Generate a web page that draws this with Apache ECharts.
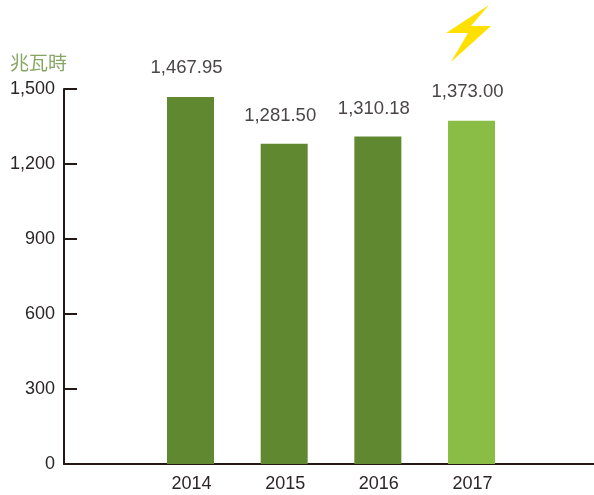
<!DOCTYPE html>
<html>
<head>
<meta charset="utf-8">
<style>html,body{margin:0;padding:0;background:#fff}#chart{width:594px;height:495px}</style>
<script src="https://cdn.jsdelivr.net/npm/echarts@6/dist/echarts.min.js"></script>
</head>
<body>
<div id="chart"></div>
<script>
var years = [2014, 2015, 2016, 2017];
var values = [1467.95, 1281.50, 1310.18, 1373.00];
var barColors = ['#5f8830', '#5f8830', '#5f8830', '#8abd45'];
var yTicks = [0, 300, 600, 900, 1200, 1500];
var unit = '兆瓦時';
var font = '"Liberation Sans", "Noto Sans CJK TC", sans-serif';
// the value labels don't sit at one height above the bars in the original
var labelDrop = [0, 2, 2, 0];

var chart = echarts.init(document.getElementById('chart'));
chart.setOption({
  animation: false,
  textStyle: {fontFamily: font},
  grid: {left: 64, right: 0, top: 89, bottom: 31},
  // lightning bolt above the 2017 bar
  graphic: [{
    type: 'polygon',
    shape: {points: [[489, 5], [446, 33], [468, 33], [451, 62], [491, 26], [471, 26]]},
    style: {fill: '#ffe000'}
  }],
  xAxis: {
    type: 'value',
    min: 2012.6495,
    max: 2018.3075,
    axisLine: {lineStyle: {color: '#231815', width: 2}},
    axisTick: {show: false},
    splitLine: {show: false},
    axisLabel: {
      color: '#2b2526', fontSize: 18, margin: 11, padding: [0, 0, 0, 2],
      customValues: years,
      formatter: function (v) { return String(v); }
    }
  },
  yAxis: {
    type: 'value',
    name: unit,
    nameLocation: 'end',
    nameGap: 15,
    nameTextStyle: {color: '#86a763', fontSize: 19, align: 'right', padding: [0, -3, 0, 0]},
    min: yTicks[0],
    max: yTicks[yTicks.length - 1],
    interval: 300,
    axisLine: {show: true, lineStyle: {color: '#231815', width: 2}},
    axisTick: {show: true, length: 13, inside: true, lineStyle: {color: '#231815', width: 2}},
    axisLabel: {
      color: '#2b2526', fontSize: 18, margin: 9, padding: [8, 0, 0, 0],
      alignMinLabel: 'right', alignMaxLabel: 'right',
      verticalAlignMinLabel: 'middle', verticalAlignMaxLabel: 'middle',
      formatter: function (v) { return v.toLocaleString('en-US'); }
    },
    splitLine: {show: false}
  },
  series: [{
    type: 'bar',
    barWidth: 47,
    data: years.map(function (y, i) {
      return {
        value: [y, values[i]],
        itemStyle: {color: barColors[i]},
        label: {offset: [-4, labelDrop[i]]}
      };
    }),
    label: {
      show: true,
      position: 'top',
      distance: 20,
      color: '#4a4546',
      fontSize: 18.5,
      formatter: function (p) {
        return p.value[1].toLocaleString('en-US', {minimumFractionDigits: 2});
      }
    }
  }]
});
</script>
</body>
</html>
